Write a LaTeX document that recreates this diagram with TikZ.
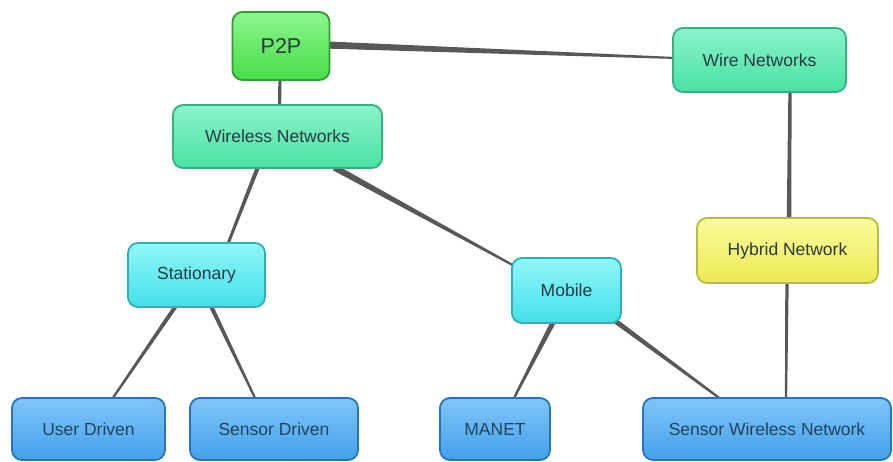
\documentclass[tikz,border=0pt]{standalone}
\usepackage{fontspec}
\setmainfont{Liberation Sans}
\usetikzlibrary{calc}

% fill and border colours of the concept boxes
\definecolor{greenT}{HTML}{8CF78C}
\definecolor{greenM}{HTML}{48DC48}
\definecolor{greenB}{HTML}{2FA02F}
\definecolor{seaT}{HTML}{8AF3CA}
\definecolor{seaM}{HTML}{48E2A2}
\definecolor{seaB}{HTML}{34B284}
\definecolor{cyanT}{HTML}{90F7F8}
\definecolor{cyanM}{HTML}{42E0EA}
\definecolor{cyanB}{HTML}{30AEBC}
\definecolor{yelT}{HTML}{FBFB9E}
\definecolor{yelM}{HTML}{EAEA52}
\definecolor{yelB}{HTML}{BABA40}
\definecolor{blueT}{HTML}{80C6F8}
\definecolor{blueM}{HTML}{42A0EA}
\definecolor{blueB}{HTML}{2872C0}
\definecolor{inkdark}{HTML}{2A3A40}
\definecolor{inkblue}{HTML}{22425F}
\definecolor{linkcol}{HTML}{585858}

\pgfdeclarelayer{links}
\pgfsetlayers{links,main}

\tikzset{
  concept/.style={draw, rounded corners=10pt, line width=1.8pt, inner sep=0pt,
    align=center, text=inkdark, font=\fontsize{17.5}{20}\selectfont},
  greenbox/.style={concept, draw=greenB, top color=greenT, bottom color=greenM,
    font=\fontsize{21.5}{24}\selectfont},
  seabox/.style={concept, draw=seaB, top color=seaT, bottom color=seaM},
  cyanbox/.style={concept, draw=cyanB, top color=cyanT, bottom color=cyanM},
  yellowbox/.style={concept, draw=yelB, top color=yelT, bottom color=yelM},
  bluebox/.style={concept, draw=blueB, top color=blueT, bottom color=blueM, text=inkblue},
}

% tapered link: #1 -> #2, half widths #3 at the start and #4 at the end
\newcommand{\taperlink}[4]{%
  \fill[linkcol] ($(#1)!#3!90:(#2)$) -- ($(#2)!#4!-90:(#1)$)
    -- ($(#2)!#4!90:(#1)$) -- ($(#1)!#3!-90:(#2)$) -- cycle;}

\begin{document}
\begin{tikzpicture}[x=1pt, y=-1pt]
  \useasboundingbox (0,0) rectangle (893,461);

  % concept boxes
  \node[greenbox, minimum width=97pt, minimum height=68pt] (p2p) at (281,46) {P2P};
  \node[seabox, minimum width=173pt, minimum height=64pt] (wire) at (759.5,60) {Wire Networks};
  \node[seabox, minimum width=209pt, minimum height=63pt] (wl) at (277.5,136.5) {Wireless Networks};
  \node[cyanbox, minimum width=137pt, minimum height=64pt] (st) at (196.5,275) {Stationary};
  \node[cyanbox, minimum width=109pt, minimum height=65pt] (mb) at (566.5,290.5) {Mobile};
  \node[yellowbox, minimum width=181pt, minimum height=65pt] (hy) at (787.5,250.5) {Hybrid Network};
  \node[bluebox, minimum width=153pt, minimum height=62pt] (ud) at (88.5,429) {User Driven};
  \node[bluebox, minimum width=168pt, minimum height=62pt] (sd) at (274,429) {Sensor Driven};
  \node[bluebox, minimum width=110pt, minimum height=62pt] (manet) at (495,429) {MANET};
  \node[bluebox, minimum width=248pt, minimum height=62pt] (swn) at (767,429) {Sensor Wireless Network};

  % attachment points of the links, slightly inside the boxes
  \coordinate (a1) at ($(p2p)+(-1,30)$);    \coordinate (b1) at ($(wl)+(2,-28)$);
  \coordinate (a2) at ($(p2p)+(46,-1)$);    \coordinate (b2) at ($(wire)+(-84,-2)$);
  \coordinate (a3) at ($(wl)+(-19,29)$);    \coordinate (b3) at ($(st)+(31,-30)$);
  \coordinate (a4) at ($(wl)+(57,31)$);     \coordinate (b4) at ($(mb)+(-53,-25)$);
  \coordinate (a5) at ($(st)+(-20,30)$);    \coordinate (b5) at ($(ud)+(23,-29)$);
  \coordinate (a6) at ($(st)+(14,30)$);     \coordinate (b6) at ($(sd)+(-18,-29)$);
  \coordinate (a7) at ($(mb)+(-13,31)$);    \coordinate (b7) at ($(manet)+(18,-29)$);
  \coordinate (a8) at ($(mb)+(44,27)$);     \coordinate (b8) at ($(swn)+(-45,-29)$);
  \coordinate (a9) at ($(wire)+(30.5,30)$); \coordinate (b9) at ($(hy)+(1.5,-31)$);
  \coordinate (a10) at ($(hy)+(-0.5,31)$);  \coordinate (b10) at ($(swn)+(19,-29)$);

  % links, under the boxes
  \begin{pgfonlayer}{links}
    \taperlink{a1}{b1}{1.6pt}{1.6pt}
    \taperlink{a2}{b2}{3.6pt}{1pt}
    \taperlink{a3}{b3}{2.1pt}{1.4pt}
    \taperlink{a4}{b4}{3.2pt}{1.1pt}
    \taperlink{a5}{b5}{2.1pt}{1.1pt}
    \taperlink{a6}{b6}{2.1pt}{1.1pt}
    \taperlink{a7}{b7}{2.6pt}{1.1pt}
    \taperlink{a8}{b8}{2.6pt}{1.1pt}
    \taperlink{a9}{b9}{1.6pt}{2.3pt}
    \taperlink{a10}{b10}{1.7pt}{1.1pt}
  \end{pgfonlayer}
\end{tikzpicture}
\end{document}
